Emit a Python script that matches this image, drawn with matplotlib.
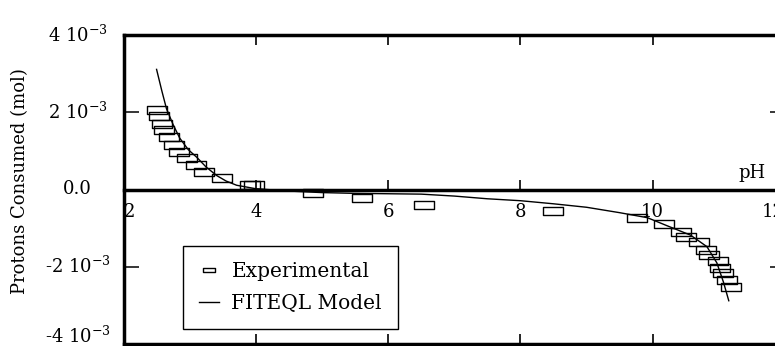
import numpy as np
import matplotlib
matplotlib.use("Agg")
import matplotlib.pyplot as plt
import matplotlib.transforms as mtransforms
from matplotlib.path import Path
from matplotlib.ticker import FuncFormatter

plt.rcParams['font.family'] = 'DejaVu Serif'
plt.rcParams['mathtext.fontset'] = 'dejavuserif'
plt.rcParams['axes.unicode_minus'] = False

# Titration: experimental points (pH, protons consumed in mmol)
exp_ph = np.array([2.51, 2.53, 2.58, 2.61, 2.69, 2.76, 2.84, 2.96, 3.09, 3.22, 3.49, 3.91, 3.97,
                   4.87, 5.61, 6.55, 8.49,
                   9.76, 10.17, 10.43, 10.51, 10.70, 10.80, 10.85, 10.98, 11.02, 11.06, 11.12, 11.18])
exp_h = np.array([2.06, 1.89, 1.70, 1.53, 1.35, 1.15, 0.97, 0.82, 0.63, 0.46, 0.29, 0.11, 0.11,
                  -0.10, -0.23, -0.41, -0.55,
                  -0.73, -0.89, -1.09, -1.23, -1.37, -1.57, -1.70, -1.86, -2.02, -2.17, -2.34, -2.52])

# FITEQL model curve (mmol)
model_ph = np.array([2.50, 2.58, 2.65, 2.75, 2.85, 2.98, 3.11, 3.25, 3.41, 3.55, 3.71, 4.0, 4.5,
                     5.0, 5.5, 6.0, 6.5, 7.0, 7.5, 8.0, 8.5, 9.0, 9.5, 9.92, 10.22, 10.57,
                     10.82, 10.97, 11.07, 11.15])
model_h = np.array([3.11, 2.55, 2.09, 1.68, 1.33, 1.03, 0.83, 0.58, 0.36, 0.22, 0.11, 0.02, -0.04,
                    -0.08, -0.10, -0.11, -0.12, -0.17, -0.24, -0.29, -0.37, -0.46, -0.60, -0.73,
                    -0.94, -1.18, -1.48, -1.90, -2.40, -2.88])

ph_ticks = [2, 4, 6, 8, 10, 12]
h_ticks = [-4, -2, 0, 2, 4]

# open rectangle marker
box = Path([(-1, -0.4), (1, -0.4), (1, 0.4), (-1, 0.4), (-1, -0.4)],
           [Path.MOVETO, Path.LINETO, Path.LINETO, Path.LINETO, Path.CLOSEPOLY])

fig = plt.figure(figsize=(7.75, 3.46), dpi=100)
ax = fig.add_axes([123.5 / 775, 2 / 346, 661.5 / 775, 309 / 346])

ax.plot(exp_ph, exp_h * 1e-3, linestyle='none', marker=box, markersize=14,
        markerfacecolor='none', markeredgecolor='black', markeredgewidth=1.0,
        label='Experimental')
ax.plot(model_ph, model_h * 1e-3, color='black', lw=1.0, label='FITEQL Model')

ax.set_xlim(2, 12)
ax.set_ylim(-4e-3, 4e-3)

lw = 2.5
for s in ax.spines.values():
    s.set_linewidth(lw)
ax.spines['bottom'].set_position(('data', 0))

ax.set_xticks(ph_ticks)
ax.set_yticks([v * 1e-3 for v in h_ticks])
ax.yaxis.set_major_formatter(FuncFormatter(
    lambda v, p: "0.0" if abs(v) < 1e-9 else f"{v * 1e3:g} 10$^{{-3}}$"))

ax.tick_params(axis='x', direction='in', length=7, width=1.2, top=True,
               labelsize=13, pad=10)
ax.tick_params(axis='y', direction='in', length=11, width=1.1, right=True,
               labelsize=13, pad=33)
xl = ax.get_xticklabels()
xl[0].set_ha('left')
xl[-1].set_ha('right')
yl = ax.get_yticklabels()
for i, lab in enumerate(yl):
    rise = 7 if i == 0 else 1.5
    lab.set_ha('center')
    lab.set_transform(lab.get_transform() +
                      mtransforms.ScaledTranslation(0, rise / 72, fig.dpi_scale_trans))

# bottom frame with its own ticks
frame = ax.secondary_xaxis('bottom')
frame.set_xticks(ph_ticks)
frame.spines['bottom'].set_linewidth(lw)
frame.tick_params(direction='in', length=7, width=1.2, labelbottom=False)

ax.set_xlabel('pH', fontsize=13)
ax.xaxis.set_label_coords(0.95, 0.583)
ax.set_ylabel('Protons Consumed (mol)', fontsize=13)
ax.yaxis.set_label_coords(-0.142, 0.527)

leg = ax.legend(loc='lower left', bbox_to_anchor=(0.09, 0.0485), borderaxespad=0,
                fontsize=14.5, fancybox=False, edgecolor='black', framealpha=1,
                markerscale=0.6, handlelength=1.0, handletextpad=0.6,
                borderpad=0.8, labelspacing=0.65)
leg.get_frame().set_linewidth(1.0)

fig.savefig('out.png', dpi=100)
